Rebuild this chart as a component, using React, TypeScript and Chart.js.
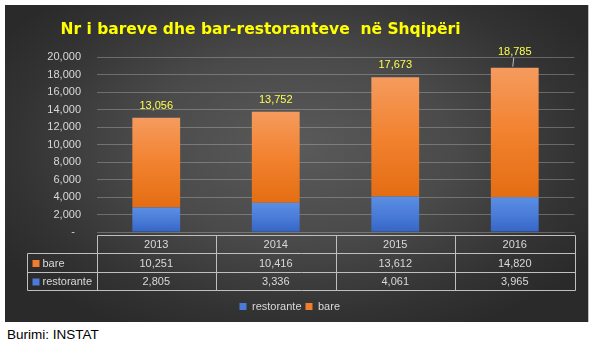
import React, { useEffect, useRef } from "react";
import { Chart, registerables } from "chart.js";

Chart.register(...registerables);

const title = "Nr i bareve dhe bar-restoranteve  në Shqipëri";
const source = "Burimi: INSTAT";
const years = ["2013", "2014", "2015", "2016"];
const restorante = [2805, 3336, 4061, 3965];
const bare = [10251, 10416, 13612, 14820];
const totals = [13056, 13752, 17673, 18785];
const seriesNames = ["restorante", "bare"];
const yMax = 20000;
const yStep = 2000;

const FONT = "'Liberation Sans', Arial, sans-serif";
const TEXT = "#d9d9d9";
const ORANGE = "#f07c2c";
const BLUE = "#4a7bd8";

const fmt = (v: number) => v.toLocaleString("en-US");

function segGradient(ctx: any, top: number, bottom: number, c1: string, c2: string, c3: string) {
  const g = ctx.createLinearGradient(0, top, 0, bottom);
  g.addColorStop(0, c1);
  g.addColorStop(0.5, c2);
  g.addColorStop(1, c3);
  return g;
}

const tablePlugin = {
  id: "dataTable",
  afterDraw(chart: any) {
    const { ctx, chartArea, scales } = chart;
    const x = scales.x;
    const y = scales.y;
    const step = x.getPixelForValue(1) - x.getPixelForValue(0);
    const left = chartArea.left;
    const right = chartArea.right;
    const top = chartArea.bottom + 3;
    const rh = 18.3;
    const labelLeft = left - 70;
    ctx.save();
    // data labels
    ctx.font = "11px " + FONT;
    ctx.textAlign = "center";
    ctx.textBaseline = "middle";
    ctx.fillStyle = "#ffff4d";
    totals.forEach((t, i) => {
      const px = x.getPixelForValue(i);
      const py = y.getPixelForValue(t);
      let ly = py - 12;
      if (ly < chartArea.top) {
        ly -= 4;
        ctx.strokeStyle = "#bfbfbf";
        ctx.lineWidth = 1;
        ctx.beginPath();
        ctx.moveTo(px - 1, ly + 6);
        ctx.lineTo(px - 2, py - 1);
        ctx.stroke();
      }
      ctx.fillText(fmt(t), px, ly);
    });
    // table
    ctx.strokeStyle = "#bfbfbf";
    ctx.lineWidth = 1;
    ctx.beginPath();
    const r0 = Math.round(top) + 0.5;
    const r1 = Math.round(top + rh) + 0.5;
    const r2 = Math.round(top + rh * 2) + 0.5;
    const r3 = Math.round(top + rh * 3) + 0.5;
    const L = Math.round(left) + 0.5;
    const R = Math.round(right) + 0.5;
    const LL = Math.round(labelLeft) + 0.5;
    ctx.moveTo(L, r0); ctx.lineTo(R, r0);
    ctx.moveTo(LL, r1); ctx.lineTo(R, r1);
    ctx.moveTo(LL, r2); ctx.lineTo(R, r2);
    ctx.moveTo(LL, r3); ctx.lineTo(R, r3);
    ctx.moveTo(LL, r1); ctx.lineTo(LL, r3);
    for (let i = 0; i <= years.length; i++) {
      const vx = Math.round(x.getPixelForValue(i) - step / 2) + 0.5;
      ctx.moveTo(vx, r0); ctx.lineTo(vx, r3);
    }
    ctx.stroke();
    ctx.fillStyle = TEXT;
    const rows = [
      { name: seriesNames[1], vals: bare, color: ORANGE },
      { name: seriesNames[0], vals: restorante, color: BLUE },
    ];
    years.forEach((yr, i) => {
      ctx.fillText(yr, x.getPixelForValue(i), (r0 + r1) / 2 + 0.5);
    });
    rows.forEach((row, ri) => {
      const cy = (ri === 0 ? (r1 + r2) / 2 : (r2 + r3) / 2) + 0.5;
      row.vals.forEach((v, i) => {
        ctx.fillStyle = TEXT;
        ctx.textAlign = "center";
        ctx.fillText(fmt(v), x.getPixelForValue(i), cy);
      });
      ctx.fillStyle = row.color;
      ctx.fillRect(LL + 5, cy - 3.5, 7, 7);
      ctx.fillStyle = TEXT;
      ctx.textAlign = "left";
      ctx.fillText(row.name, LL + 15, cy);
    });
    ctx.restore();
  },
};

export default function App() {
  const ref = useRef<HTMLCanvasElement>(null);
  useEffect(() => {
    const canvas = ref.current!;
    const chart = new Chart(canvas, {
      type: "bar",
      data: {
        labels: years,
        datasets: [
          {
            label: seriesNames[0],
            data: restorante,
            backgroundColor: (c: any) => {
              const ch = c.chart;
              const ys = ch.scales && ch.scales.y;
              if (!ys || c.dataIndex === undefined) return BLUE;
              const t = ys.getPixelForValue(restorante[c.dataIndex]);
              const b = ys.getPixelForValue(0);
              return segGradient(ch.ctx, t, b, "#5b8ee4", "#4a7cd8", "#3566c8");
            },
            borderWidth: 0,
            barPercentage: 0.4,
            categoryPercentage: 1,
          },
          {
            label: seriesNames[1],
            data: bare,
            backgroundColor: (c: any) => {
              const ch = c.chart;
              const ys = ch.scales && ch.scales.y;
              if (!ys || c.dataIndex === undefined) return ORANGE;
              const t = ys.getPixelForValue(totals[c.dataIndex]);
              const b = ys.getPixelForValue(restorante[c.dataIndex]);
              return segGradient(ch.ctx, t, b, "#f59b5e", "#f2822f", "#e46d12");
            },
            borderWidth: 0,
            barPercentage: 0.4,
            categoryPercentage: 1,
          },
        ],
      },
      options: {
        animation: false,
        responsive: false,
        maintainAspectRatio: false,
        layout: { padding: { top: 52, right: 13.5, bottom: 0, left: 0 } },
        plugins: {
          title: { display: false },
          tooltip: { enabled: false },
          legend: {
            position: "bottom",
            labels: {
              color: TEXT,
              font: { size: 11, family: FONT },
              boxWidth: 7,
              boxHeight: 7,
              padding: 4,
              generateLabels: (ch: any) =>
                ch.data.datasets.map((d: any, i: number) => ({
                  text: d.label,
                  fillStyle: i === 0 ? BLUE : ORANGE,
                  strokeStyle: "transparent",
                  lineWidth: 0,
                  fontColor: TEXT,
                  datasetIndex: i,
                  hidden: false,
                })),
            },
          },
        },
        scales: {
          x: {
            stacked: true,
            grid: { display: false },
            border: { display: false },
            ticks: { display: false },
            afterFit: (s: any) => {
              s.height = 65;
            },
          },
          y: {
            stacked: true,
            min: 0,
            max: yMax,
            grid: { color: "rgba(200,200,200,0.35)", drawTicks: false },
            border: { display: false },
            ticks: {
              stepSize: yStep,
              padding: 15.5,
              color: TEXT,
              font: { size: 11, family: FONT },
              callback: (v: any) => (v === 0 ? "-  " : fmt(Number(v))),
            },
            afterFit: (s: any) => {
              s.width = 91.5;
            },
          },
        },
      },
      plugins: [tablePlugin],
    });
    return () => chart.destroy();
  }, []);

  return (
    <div style={{ position: "absolute", left: 0, top: 0, width: 591, height: 351, background: "#fff", overflow: "hidden" }}>
      <div
        style={{
          position: "absolute",
          left: 5,
          top: 5,
          width: 583,
          height: 317,
          background: "radial-gradient(ellipse 60% 65% at 50% 45%, #5a5a5a 0%, #4a4a4a 45%, #333333 80%, #2a2a2a 100%)",
          borderRight: "1px solid #bfbfbf",
        }}
      >
        <canvas ref={ref} width={583} height={317} style={{ position: "absolute", left: 0, top: 0, width: 583, height: 317 }} />
        <div
          style={{
            position: "absolute",
            left: 0,
            width: 511,
            top: 14,
            textAlign: "center",
            color: "#ffff00",
            fontFamily: "'DejaVu Sans', Verdana, sans-serif",
            fontWeight: "bold",
            fontSize: 15.5,
            lineHeight: "20px",
            whiteSpace: "pre",
          }}
        >
          {title}
        </div>
      </div>
      <div
        style={{
          position: "absolute",
          left: 7,
          top: 327,
          color: "#000",
          fontFamily: FONT,
          fontSize: 13.5,
          lineHeight: "16px",
        }}
      >
        {source}
      </div>
    </div>
  );
}
